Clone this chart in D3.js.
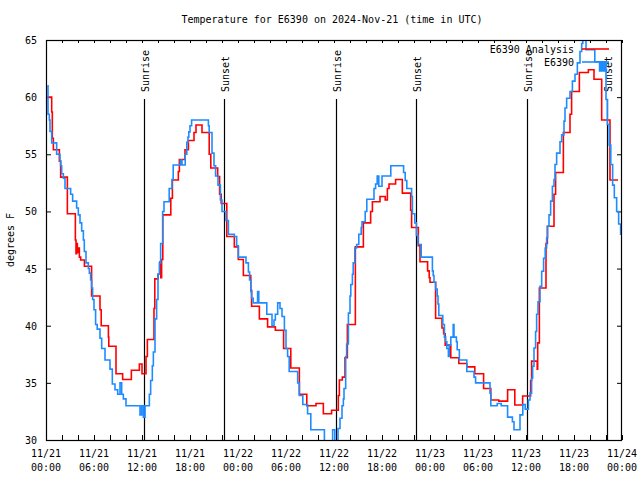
<!DOCTYPE html>
<html>
<head>
<meta charset="utf-8">
<script src="https://cdn.jsdelivr.net/npm/d3@7"></script>
<style>
  html, body { margin: 0; padding: 0; background: #fff; }
  svg { display: block; }
  text { font-family: "DejaVu Sans Mono", "Liberation Mono", monospace; font-size: 10px; fill: #000; }
</style>
</head>
<body>
<div id="chart"></div>
<script>
// ---- Data (hours since 2024-11-21 00:00 UTC, degrees F) ----
const titleText = "Temperature for E6390 on 2024-Nov-21 (time in UTC)";
const yLabel = "degrees F";
const seriesNames = ["E6390 Analysis", "E6390"];
const seriesColors = ["#ff0000", "#1e8cff"];

const redHours = [0.17,0.71,0.79,0.92,1.67,1.83,2.67,3.67,3.75,3.83,3.92,4.0,4.17,4.33,4.8,5.7,6.75,6.9,7.8,7.85,8.75,9.58,10.67,11.67,12.0,12.5,12.67,13.5,13.6,14.0,14.25,14.35,14.45,14.6,15.6,15.8,16.54,16.67,17.375,17.8,18.5,18.75,19.5,20.4,20.6,21.46,21.7,21.9,22.6,23.54,24.04,24.67,25.6,25.7,26.67,27.7,28.67,29.7,30.6,31.67,32.6,33.75,34.67,35.7,36.54,36.67,37.04,37.375,37.67,38.67,39.67,40.58,40.8,41.75,42.4,42.67,42.875,43.7,44.54,45.58,45.7,46.54,46.75,47.7,47.9,48.0,48.7,49.5,49.7,49.9,50.6,51.6,52.6,53.6,54.7,55.6,56.6,57.7,58.6,59.58,60.58,60.7,61.4,61.46,61.67,62.5,62.67,63.5,63.7,64.67,65.5,65.7,66.67,67.8,68.5,69.46,70.5,71.5];
const redTemps = [60.0,58.7,56.4,55.4,54.4,53.0,49.8,47.5,46.3,47.2,46.4,46.8,46.0,45.75,45.2,42.6,41.4,40.0,39.0,38.2,35.8,35.3,36.1,36.65,35.8,37.3,38.8,41.5,44.1,44.5,45.6,44.2,45.8,49.7,51.15,52.75,53.5,54.55,55.4,56.2,56.9,57.56,56.9,55.0,53.8,53.05,51.5,50.7,47.8,46.9,45.8,44.4,43.1,41.7,40.6,39.9,39.6,38.0,36.3,34.0,33.0,33.2,32.3,32.6,33.9,35.25,35.5,37.2,40.1,46.9,49.0,50.0,50.85,51.3,51.0,52.0,52.4,52.8,51.6,50.1,48.6,47.0,45.6,44.8,44.2,43.8,40.65,39.8,39.3,38.3,37.2,36.7,36.4,35.8,34.5,33.5,33.4,34.4,33.06,33.85,35.2,36.9,36.2,38.5,43.3,47.2,48.7,51.5,53.4,56.9,58.5,60.5,62.15,62.4,61.56,58.0,52.75,52.75];

const blueHours = [0.17,0.25,0.42,0.5,0.71,1.33,1.75,1.83,1.96,2.17,2.375,3.08,3.33,3.83,4.04,4.25,4.46,4.67,4.79,5.0,5.29,5.42,5.58,5.71,5.83,6.0,6.2,6.4,6.75,6.96,7.375,8.0,8.29,8.625,8.96,9.25,9.46,9.67,10.0,11.75,11.96,12.17,12.375,12.92,13.08,13.29,13.42,13.625,13.83,14.0,14.17,14.33,14.58,14.75,15.4,15.75,15.9,16.8,17.0,17.4,17.6,17.75,17.85,18.0,18.2,20.3,20.4,20.75,21.0,21.2,21.5,21.8,22.0,22.5,22.8,23.54,23.83,24.04,25.0,25.3,25.45,25.6,25.7,25.9,26.45,26.6,27.6,28.25,28.5,28.67,28.96,29.25,29.5,29.8,30.0,30.2,30.4,31.46,31.67,32.1,32.7,33.1,34.8,35.83,36.1,36.5,36.75,37.0,37.17,37.25,37.46,37.58,37.8,38.0,38.1,38.3,38.4,38.6,38.83,39.1,39.4,39.5,39.9,40.1,41.0,41.2,41.4,41.6,42.0,43.1,44.7,44.9,45.1,45.7,45.8,46.1,46.3,46.5,46.9,48.3,48.4,48.5,48.7,48.9,49.0,49.1,49.6,49.8,49.96,50.1,50.3,50.4,50.6,50.9,51.0,51.3,51.4,51.67,52.6,53.5,53.7,55.5,55.6,56.4,56.9,57.7,58.3,58.5,59.25,59.6,59.9,60.3,60.5,60.7,60.83,61.0,61.2,61.33,61.5,61.75,61.96,62.2,62.4,62.58,62.7,62.875,63.08,63.3,63.5,63.625,63.83,64.25,64.46,64.75,64.875,65.08,65.5,65.8,66.125,66.42,66.75,66.96,67.1,67.5,68.6,69.2,69.4,69.6,69.8,70.0,70.17,70.4,70.6,70.83,71.04,71.33,71.58,71.83,71.95];
const blueTemps = [61.0,58.5,58.0,57.0,56.0,55.0,54.4,54.0,53.3,52.9,52.0,51.5,50.9,50.3,49.7,49.0,48.3,47.5,46.5,45.5,45.0,44.6,44.0,43.3,42.3,41.4,40.1,39.7,38.9,38.0,37.0,36.2,34.9,34.4,34.0,35.0,34.0,33.6,33.0,32.2,33.0,32.0,33.0,34.0,35.2,36.5,37.7,40.6,42.3,44.5,45.5,47.2,50.0,50.85,52.0,52.8,54.06,54.5,54.06,55.0,56.05,56.5,56.96,57.5,58.0,57.5,56.9,55.1,54.0,53.1,52.3,51.0,50.0,49.2,48.0,47.8,47.0,46.0,45.5,44.7,44.0,43.0,42.4,42.0,43.0,42.0,41.0,40.0,40.5,41.0,42.0,41.5,40.8,39.6,38.0,37.3,36.0,35.0,33.9,33.1,32.3,30.9,29.5,30.9,29.5,31.0,31.9,33.0,33.6,34.5,37.3,38.4,41.1,42.6,43.6,44.5,45.5,46.8,47.1,48.0,48.6,49.1,50.0,51.06,52.0,52.4,53.1,52.2,53.1,54.0,53.4,52.7,52.0,51.3,49.8,49.0,47.9,47.1,46.0,44.8,44.4,43.8,43.2,42.6,41.9,40.9,40.1,39.0,38.6,38.0,37.3,38.3,39.0,40.1,39.0,38.6,37.9,37.0,36.0,35.5,35.0,34.1,33.0,33.2,33.0,32.0,31.6,30.9,32.2,33.1,32.7,33.5,34.1,35.4,36.45,38.05,39.5,41.0,42.1,43.45,44.76,45.9,46.8,47.7,48.7,49.7,50.9,52.2,52.8,54.1,55.1,56.1,56.7,57.9,59.05,59.9,60.5,61.4,62.0,63.0,64.0,64.7,65.5,64.15,63.1,62.3,63.1,62.3,63.1,59.8,57.6,55.8,54.1,52.3,51.2,50.0,48.9,48.0,48.0];

const sunriseHours = [12.29, 36.2, 60.16];
const sunsetHours = [22.29, 46.21, 70.16];

const yTicks = [30, 35, 40, 45, 50, 55, 60, 65];

// ---- Setup ----
const W = 640, H = 480;
const M = { left: 46, right: 622, top: 40, bottom: 440 };
const t0 = Date.UTC(2024, 10, 21);
const toDate = h => new Date(t0 + h * 3600000);

const x = d3.scaleUtc().domain([new Date(t0), toDate(72)]).range([M.left, M.right]);
const y = d3.scaleLinear().domain([30, 65]).range([M.bottom, M.top]);

const svg = d3.select("#chart").append("svg").attr("width", W).attr("height", H);

svg.append("defs").append("clipPath").attr("id", "clip")
  .append("rect").attr("x", M.left).attr("y", M.top)
  .attr("width", M.right - M.left).attr("height", M.bottom - M.top);

// Title
svg.append("text").attr("x", 332).attr("y", 20).attr("text-anchor", "middle")
  .attr("dominant-baseline", "middle").text(titleText);

// Y label
svg.append("text").attr("transform", "translate(11,240) rotate(-90)")
  .attr("text-anchor", "middle").attr("dominant-baseline", "middle").text(yLabel);

// Axes: bottom (inward ticks every 2 h, labels every 6 h)
const fmtDay = d3.utcFormat("%m/%d"), fmtTime = d3.utcFormat("%H:%M");
const xTicks = d3.utcHour.every(2).range(new Date(t0), toDate(72.01));
const gx = svg.append("g").attr("transform", `translate(0,${M.bottom})`)
  .call(d3.axisBottom(x).tickValues(xTicks).tickSizeInner(-5).tickSizeOuter(0).tickFormat(""));
gx.select(".domain").remove();
const labelTicks = xTicks.filter(d => d.getUTCHours() % 6 === 0);
const lab = svg.append("g");
labelTicks.forEach(d => {
  const t = lab.append("text").attr("x", Math.round(x(d))).attr("text-anchor", "middle");
  t.append("tspan").attr("x", Math.round(x(d))).attr("y", 457).text(fmtDay(d));
  t.append("tspan").attr("x", Math.round(x(d))).attr("y", 471).text(fmtTime(d));
});
// top mirror ticks
const gxt = svg.append("g").attr("transform", `translate(0,${M.top})`)
  .call(d3.axisTop(x).tickValues(xTicks).tickSizeInner(-3).tickSizeOuter(0).tickFormat(""));
gxt.select(".domain").remove();

// Y axes
const gy = svg.append("g").attr("transform", `translate(${M.left},0)`)
  .call(d3.axisLeft(y).tickValues(yTicks).tickSizeInner(-5).tickSizeOuter(0).tickPadding(9).tickFormat(d3.format("d")));
gy.select(".domain").remove();
gy.selectAll(".tick text").attr("dy", "0.35em")
  .style("font-family", '"DejaVu Sans Mono", monospace').style("font-size", "10px");
const gyr = svg.append("g").attr("transform", `translate(${M.right},0)`)
  .call(d3.axisRight(y).tickValues(yTicks).tickSizeInner(-5).tickSizeOuter(0).tickFormat(""));
gyr.select(".domain").remove();

// Sunrise / Sunset lines
const events = sunriseHours.map(h => ({ h, name: "Sunrise" }))
  .concat(sunsetHours.map(h => ({ h, name: "Sunset" })));
events.forEach(e => {
  const xp = Math.round(x(toDate(e.h))) + 0.5;
  svg.append("line").attr("x1", xp).attr("x2", xp).attr("y1", 99).attr("y2", M.bottom)
    .attr("stroke", "#000").attr("stroke-width", 1.2);
  svg.append("text").attr("transform", `translate(${xp + 1},92) rotate(-90)`)
    .attr("text-anchor", "start").attr("dominant-baseline", "middle").text(e.name);
});

// Series
const line = d3.line().x(d => x(d[0])).y(d => y(d[1])).curve(d3.curveStepAfter);
const redData = redHours.map((h, i) => [toDate(h), redTemps[i]]);
const blueData = blueHours.map((h, i) => [toDate(h), blueTemps[i]]);
const plot = svg.append("g").attr("clip-path", "url(#clip)");
plot.append("path").datum(redData).attr("d", line).attr("fill", "none")
  .attr("stroke", seriesColors[0]).attr("stroke-width", 1.6);
plot.append("path").datum(blueData).attr("d", line).attr("fill", "none")
  .attr("stroke", seriesColors[1]).attr("stroke-width", 1.6);

// Legend
const legY = [49.5, 62.5];
seriesNames.forEach((n, i) => {
  svg.append("text").attr("x", 574).attr("y", legY[i]).attr("text-anchor", "end")
    .attr("dominant-baseline", "middle").text(n);
  svg.append("line").attr("x1", 582).attr("x2", 609).attr("y1", legY[i] - 0.5).attr("y2", legY[i] - 0.5)
    .attr("stroke", seriesColors[i]).attr("stroke-width", 1.6);
});

// Border
svg.append("rect").attr("x", M.left + 0.5).attr("y", M.top + 0.5)
  .attr("width", M.right - M.left - 1).attr("height", M.bottom - M.top)
  .attr("fill", "none").attr("stroke", "#000").attr("stroke-width", 1.2);
</script>
</body>
</html>
